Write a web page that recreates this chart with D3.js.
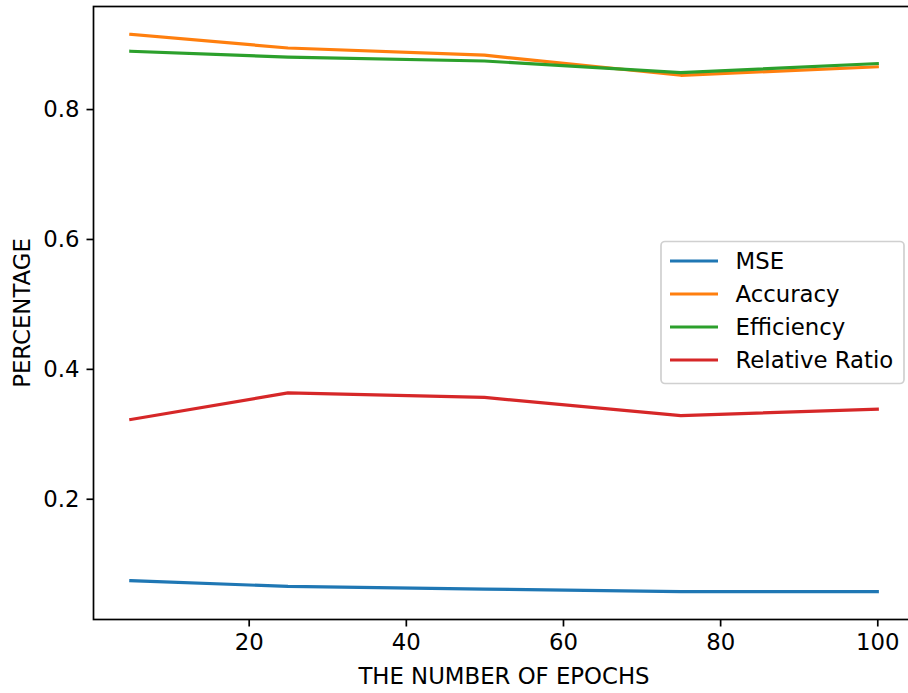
<!DOCTYPE html>
<html>
<head>
<meta charset="utf-8">
<script src="https://cdn.jsdelivr.net/npm/d3@7"></script>
<style>
  body { margin: 0; background: #fff; }
  svg { display: block; font-family: "DejaVu Sans", sans-serif; }
</style>
</head>
<body>
<div id="chart"></div>
<script>
var epochs = [5, 25, 50, 75, 100];
var mse = [0.074, 0.065, 0.061, 0.057, 0.057];
var accuracy = [0.915, 0.894, 0.883, 0.852, 0.865];
var efficiency = [0.889, 0.880, 0.874, 0.856, 0.870];
var relativeRatio = [0.322, 0.363, 0.356, 0.328, 0.338];

var seriesNames = ["MSE", "Accuracy", "Efficiency", "Relative Ratio"];
var seriesColors = ["#1f77b4", "#ff7f0e", "#2ca02c", "#d62728"];
var xTicks = [20, 40, 60, 80, 100];
var yTicks = [0.2, 0.4, 0.6, 0.8];

var series = [mse, accuracy, efficiency, relativeRatio];

var width = 908,
  height = 693;
var margin = { left: 93.5, top: 6.5, right: 914.6, bottom: 619.5 };
var fontSize = 22.8;

var svg = d3
  .select("#chart")
  .append("svg")
  .attr("width", width)
  .attr("height", height);

// matplotlib-style 5% margins around the data
var allY = d3.merge(series);
var yExt = d3.extent(allY),
  yPad = (yExt[1] - yExt[0]) * 0.05;
var xExt = d3.extent(epochs),
  xPad = (xExt[1] - xExt[0]) * 0.05;

var x = d3
  .scaleLinear()
  .domain([xExt[0] - xPad, xExt[1] + xPad])
  .range([margin.left, margin.right]);
var y = d3
  .scaleLinear()
  .domain([yExt[0] - yPad, yExt[1] + yPad])
  .range([margin.bottom, margin.top]);

var line = d3
  .line()
  .x(function(d, i) {
    return x(epochs[i]);
  })
  .y(function(d) {
    return y(d);
  });

svg
  .selectAll("path.series")
  .data(series)
  .enter()
  .append("path")
  .attr("class", "series")
  .attr("d", line)
  .attr("fill", "none")
  .attr("stroke", function(d, i) {
    return seriesColors[i];
  })
  .attr("stroke-width", 3.2)
  .attr("stroke-linejoin", "round")
  .attr("stroke-linecap", "square");

// axes
var xAxis = d3
  .axisBottom(x)
  .tickValues(xTicks)
  .tickSize(7)
  .tickPadding(7)
  .tickFormat(d3.format("d"));
var yAxis = d3
  .axisLeft(y)
  .tickValues(yTicks)
  .tickSize(7)
  .tickPadding(7)
  .tickFormat(d3.format(".1f"));

function styleAxis(g) {
  g.select(".domain").remove();
  g.selectAll(".tick line").attr("stroke", "#000").attr("stroke-width", 1.7);
  g.selectAll(".tick text")
    .attr("fill", "#000")
    .attr("font-size", fontSize)
    .attr("font-family", "DejaVu Sans, sans-serif");
}

svg
  .append("g")
  .attr("transform", "translate(0," + margin.bottom + ")")
  .call(xAxis)
  .call(styleAxis);

svg
  .append("g")
  .attr("transform", "translate(" + margin.left + ",0)")
  .call(yAxis)
  .call(styleAxis);

// frame
svg
  .append("rect")
  .attr("x", margin.left)
  .attr("y", margin.top)
  .attr("width", margin.right - margin.left)
  .attr("height", margin.bottom - margin.top)
  .attr("fill", "none")
  .attr("stroke", "#000")
  .attr("stroke-width", 1.7);

// axis labels
svg
  .append("text")
  .attr("x", 504)
  .attr("y", 684)
  .attr("text-anchor", "middle")
  .attr("font-size", fontSize)
  .text("THE NUMBER OF EPOCHS");

svg
  .append("text")
  .attr("transform", "translate(30," + (margin.top + margin.bottom) / 2 + ") rotate(-90)")
  .attr("text-anchor", "middle")
  .attr("font-size", fontSize)
  .text("PERCENTAGE");

// legend
var legend = svg.append("g").attr("class", "legend");
legend
  .append("rect")
  .attr("x", 661)
  .attr("y", 241.5)
  .attr("width", 243)
  .attr("height", 142)
  .attr("rx", 4)
  .attr("fill", "#fff")
  .attr("fill-opacity", 0.8)
  .attr("stroke", "#d0d0d0")
  .attr("stroke-width", 1.7);

var items = legend
  .selectAll("g.item")
  .data(seriesNames)
  .enter()
  .append("g")
  .attr("class", "item")
  .attr("transform", function(d, i) {
    return "translate(0," + (261 + i * 33) + ")";
  });

items
  .append("line")
  .attr("x1", 670)
  .attr("x2", 718)
  .attr("stroke", function(d, i) {
    return seriesColors[i];
  })
  .attr("stroke-width", 3.2);

items
  .append("text")
  .attr("x", 735.5)
  .attr("dy", "0.36em")
  .attr("font-size", fontSize)
  .text(function(d) {
    return d;
  });
</script>
</body>
</html>
